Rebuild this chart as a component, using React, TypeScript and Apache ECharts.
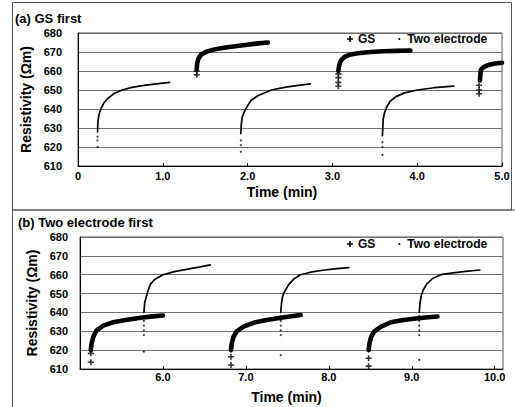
import React, { useEffect, useRef } from "react";
import * as echarts from "echarts";

// ---------- Panel (a) GS first ----------
const gsA1 = [[1.40, 661], [1.405, 664], [1.42, 666.5], [1.45, 668.5], [1.52, 670.3], [1.62, 671.5], [1.76, 672.5], [1.95, 673.6], [2.1, 674.4], [2.24, 675]];
const gsA2 = [[3.07, 660], [3.08, 663], [3.1, 665.5], [3.14, 667.3], [3.2, 668.5], [3.3, 669.3], [3.45, 670], [3.6, 670.4], [3.75, 670.6], [3.92, 670.8]];
const gsA3 = [[4.74, 655], [4.745, 658], [4.75, 660.5], [4.78, 662], [4.83, 663], [4.9, 663.8], [5.0, 664.3]];
const gsAStart = [[1.40, 658], [1.40, 660], [3.07, 652], [3.07, 654], [3.07, 656.5], [3.07, 658.5], [4.73, 648], [4.73, 650], [4.73, 652.5]];

const teA1 = [[0.23, 628], [0.235, 633], [0.245, 636.5], [0.26, 639], [0.28, 641], [0.31, 643.5], [0.35, 645.5], [0.42, 648], [0.52, 650], [0.65, 651.5], [0.8, 652.6], [0.95, 653.4], [1.08, 654]];
const teA2 = [[1.92, 627], [1.925, 631.5], [1.935, 635.5], [1.96, 638.5], [1.99, 641], [2.04, 644.5], [2.12, 647], [2.28, 650], [2.45, 651.5], [2.6, 652.4], [2.74, 653.2]];
const teA3 = [[3.59, 626], [3.595, 631], [3.6, 635], [3.615, 638], [3.64, 641], [3.68, 644], [3.75, 646.5], [3.85, 648.5], [4.0, 650], [4.2, 651.2], [4.43, 652]];
const teAStart = [[0.23, 620], [0.23, 623.5], [0.23, 625.5], [1.92, 617.5], [1.92, 621], [1.92, 623.5], [3.59, 615.8], [3.59, 620], [3.59, 622.5]];

// ---------- Panel (b) Two electrode first ----------
const gsB1 = [[5.13, 620], [5.14, 623.5], [5.16, 627], [5.2, 630.5], [5.28, 633], [5.4, 634.8], [5.55, 636], [5.73, 637.2], [5.88, 637.9], [6.0, 638.4]];
const gsB2 = [[6.82, 620], [6.83, 623.5], [6.85, 627], [6.89, 630], [6.97, 632.5], [7.1, 634.6], [7.25, 636], [7.42, 637.2], [7.55, 638], [7.66, 638.6]];
const gsB3 = [[8.48, 620], [8.49, 623.5], [8.51, 627], [8.55, 630], [8.63, 632.5], [8.75, 634.8], [8.9, 636], [9.05, 636.8], [9.2, 637.4], [9.31, 637.8]];
const gsBStart = [[5.13, 613.6], [5.13, 618.3], [6.82, 612.1], [6.82, 616.5], [8.48, 611.5], [8.48, 615.7]];

const teB1 = [[5.77, 640], [5.78, 645], [5.8, 648.5], [5.82, 651.5], [5.85, 655], [5.9, 657.5], [6.0, 660], [6.15, 661.8], [6.3, 663], [6.45, 664.2], [6.57, 665.2]];
const teB2 = [[7.42, 640], [7.43, 645], [7.44, 648], [7.46, 650.5], [7.52, 655], [7.58, 657.8], [7.66, 660], [7.8, 661.5], [7.95, 662.5], [8.1, 663.2], [8.24, 663.8]];
const teB3 = [[9.09, 640], [9.1, 645], [9.115, 649], [9.14, 652], [9.18, 655], [9.25, 658], [9.35, 660], [9.5, 661], [9.65, 661.8], [9.82, 662.5]];
const teBStart = [[5.77, 619.2], [5.77, 628], [5.77, 630.5], [5.77, 633], [5.77, 635.5], [5.77, 638], [7.42, 617.4], [7.42, 628], [7.42, 630.5], [7.42, 633], [7.42, 635.5], [7.42, 638], [9.09, 614.8], [9.09, 628], [9.09, 630.5], [9.09, 633], [9.09, 635.5], [9.09, 638]];

// ---------- Axes ----------
const topXTicks = [0, 1, 2, 3, 4, 5];
const bottomXTicks = [6, 7, 8, 9, 10];
const yMin = 610;
const yMax = 680;
const yStep = 10;

const titleA = "(a) GS first";
const titleB = "(b) Two electrode first";
const yName = "Resistivity (Ωm)";
const xName = "Time (min)";
const seriesNames = ["GS", "Two electrode"];

const FONT = "'Liberation Sans', Arial, Helvetica, sans-serif";
const PLUS = "path://M2.2,0H3.8V2.2H6V3.8H3.8V6H2.2V3.8H0V2.2H2.2Z";
const DOT = "path://M0,0M6,6M2.1,2.1H3.9V3.9H2.1Z";

export default function App() {
  const ref = useRef<HTMLDivElement>(null);

  useEffect(() => {
    if (!ref.current) return;
    const chart = echarts.init(ref.current, undefined, { renderer: "svg" });

    const fmt = (v: number) => (v === 0 ? "0" : v.toFixed(1));

    const gsLine = (d: number[][], idx: number) => ({
      type: "line",
      name: seriesNames[0],
      xAxisIndex: idx,
      yAxisIndex: idx,
      data: d,
      symbol: "none",
      showSymbol: false,
      silent: true,
      z: 3,
      itemStyle: { color: "#000" },
      lineStyle: { width: 4.6, color: "#000", cap: "round", join: "round" },
    });
    const teLine = (d: number[][], idx: number) => ({
      type: "line",
      name: seriesNames[1],
      xAxisIndex: idx,
      yAxisIndex: idx,
      data: d,
      symbol: "none",
      showSymbol: false,
      silent: true,
      z: 4,
      itemStyle: { color: "#000" },
      lineStyle: { width: 1.7, color: "#000", cap: "round" },
    });
    const gsMarks = (d: number[][], idx: number) => ({
      type: "scatter",
      name: seriesNames[0],
      xAxisIndex: idx,
      yAxisIndex: idx,
      data: d,
      symbol: PLUS,
      symbolSize: 6,
      silent: true,
      z: 3,
      itemStyle: { color: "#000" },
    });
    const teMarks = (d: number[][], idx: number) => ({
      type: "scatter",
      name: seriesNames[1],
      xAxisIndex: idx,
      yAxisIndex: idx,
      data: d,
      symbol: "circle",
      symbolSize: 2,
      silent: true,
      z: 4,
      itemStyle: { color: "#000" },
    });

    const yAxisBase = (idx: number, margin: number, gap: number) => ({
      type: "value",
      gridIndex: idx,
      min: yMin,
      max: yMax,
      interval: yStep,
      name: yName,
      nameLocation: "middle",
      nameGap: gap,
      nameTextStyle: { fontSize: 14, fontWeight: "bold", color: "#000", fontFamily: FONT },
      axisLine: { show: true, lineStyle: { color: "#000", width: 1 } },
      axisTick: { show: false },
      axisLabel: { fontSize: 11, fontWeight: "bold", color: "#000", margin, fontFamily: FONT },
      splitLine: { show: true, lineStyle: { color: "#707070", width: 1 } },
    });

    const legendBase = (top: number) => ({
      left: 347,
      top,
      itemWidth: 6,
      itemHeight: 6,
      itemGap: 21,
      selectedMode: false,
      padding: 0,
      textStyle: { fontSize: 12, fontWeight: "bold", color: "#000", fontFamily: FONT },
      data: [
        { name: seriesNames[0], icon: PLUS, itemStyle: { color: "#000" } },
        { name: seriesNames[1], icon: DOT, itemStyle: { color: "#000" } },
      ],
    });

    chart.setOption({
      animation: false,
      backgroundColor: "#fff",
      textStyle: { fontFamily: FONT },
      title: [
        { text: titleA, left: 15, top: 12, padding: 0, textStyle: { fontSize: 13, fontWeight: "bold", color: "#000", fontFamily: FONT } },
        { text: titleB, left: 18, top: 216, padding: 0, textStyle: { fontSize: 13, fontWeight: "bold", color: "#000", fontFamily: FONT } },
      ],
      legend: [legendBase(33), legendBase(238)],
      grid: [
        { left: 78, top: 33, width: 424, height: 133, show: true, borderColor: "#555", borderWidth: 1, containLabel: false },
        { left: 80, top: 237, width: 423, height: 132, show: true, borderColor: "#555", borderWidth: 1, containLabel: false },
      ],
      xAxis: [
        {
          type: "value",
          gridIndex: 0,
          min: topXTicks[0],
          max: topXTicks[topXTicks.length - 1],
          interval: 1,
          name: xName,
          nameLocation: "middle",
          nameGap: 19,
          nameTextStyle: { fontSize: 14, fontWeight: "bold", color: "#000", padding: [0, 16, 0, 0], fontFamily: FONT },
          axisLine: { show: true, lineStyle: { color: "#000", width: 1 } },
          axisTick: { show: true, inside: true, length: 3, lineStyle: { color: "#000" } },
          axisLabel: { fontSize: 11, fontWeight: "bold", color: "#000", margin: 4, formatter: fmt, fontFamily: FONT },
          splitLine: { show: false },
        },
        {
          type: "value",
          gridIndex: 1,
          min: 5,
          max: 10.1,
          name: xName,
          nameLocation: "middle",
          nameGap: 21,
          nameTextStyle: { fontSize: 14, fontWeight: "bold", color: "#000", padding: [0, 10, 0, 0], fontFamily: FONT },
          axisLine: { show: true, lineStyle: { color: "#000", width: 1 } },
          axisTick: { show: true, inside: true, length: 3, customValues: bottomXTicks, lineStyle: { color: "#000" } },
          axisLabel: { fontSize: 11, fontWeight: "bold", color: "#000", margin: 2, customValues: bottomXTicks, formatter: fmt, fontFamily: FONT },
          splitLine: { show: false },
        },
      ],
      yAxis: [yAxisBase(0, 16, 41), yAxisBase(1, 12, 38)],
      series: [
        ...[gsA1, gsA2, gsA3].map((d) => gsLine(d, 0)),
        gsMarks(gsAStart, 0),
        ...[teA1, teA2, teA3].map((d) => teLine(d, 0)),
        teMarks(teAStart, 0),
        ...[gsB1, gsB2, gsB3].map((d) => gsLine(d, 1)),
        gsMarks(gsBStart, 1),
        ...[teB1, teB2, teB3].map((d) => teLine(d, 1)),
        teMarks(teBStart, 1),
      ],
      graphic: [
        { type: "rect", shape: { x: 12.5, y: 2.5, width: 499, height: 207.5 }, style: { fill: "none", stroke: "#555", lineWidth: 1 }, silent: true },
        { type: "line", shape: { x1: 12.5, y1: 210, x2: 12.5, y2: 407 }, style: { stroke: "#555", lineWidth: 1 }, silent: true },
        { type: "line", shape: { x1: 12.5, y1: 210, x2: 515, y2: 210 }, style: { stroke: "#555", lineWidth: 1 }, silent: true },
      ],
    });

    return () => chart.dispose();
  }, []);

  return (
    <div
      ref={ref}
      style={{ position: "fixed", left: 0, top: 0, width: 515, height: 407, background: "#fff" }}
    />
  );
}
